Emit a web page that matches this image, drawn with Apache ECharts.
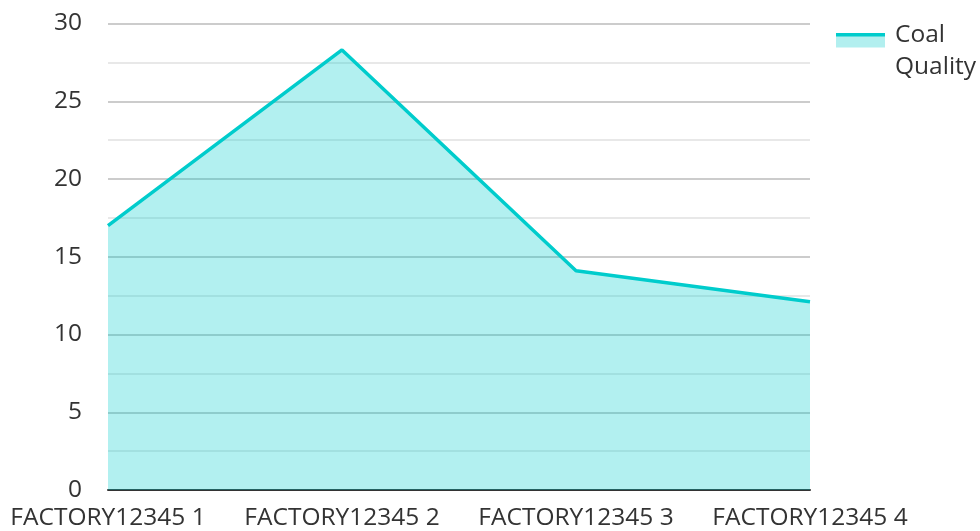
<!DOCTYPE html>
<html><head><meta charset="utf-8">
<script src="https://cdn.jsdelivr.net/npm/echarts@6/dist/echarts.min.js"></script>
<style>html,body{margin:0;padding:0;background:#fff}#c{width:980px;height:531px}</style>
</head><body><div id="c"></div>
<script>
var categories = ['FACTORY12345 1', 'FACTORY12345 2', 'FACTORY12345 3', 'FACTORY12345 4'];
var coalQuality = [17.0, 28.3, 14.1, 12.1];
var seriesName = 'Coal Quality';

var iconSvg = '<svg xmlns="http://www.w3.org/2000/svg" width="54" height="37"><rect x="0" y="0" width="49" height="15" fill="#b2efef"/><rect x="0" y="0" width="49" height="4" fill="#00cccc"/></svg>';
var chart = echarts.init(document.getElementById('c'));
chart.setOption({
  animation: false,
  textStyle: { fontFamily: 'Open Sans' },
  grid: { left: 108, right: 170, top: 23.5, bottom: 41, containLabel: false },
  legend: {
    left: 831, top: 14, orient: 'vertical',
    itemWidth: 54, itemHeight: 37, itemGap: 10,
    icon: 'image://data:image/svg+xml;charset=utf-8,' + encodeURIComponent(iconSvg),
    formatter: function (n) { return n.replace(' ', '\n'); },
    textStyle: { fontSize: 24.5, color: '#333', lineHeight: 32, fontFamily: 'Open Sans' },
    data: [seriesName]
  },
  xAxis: {
    type: 'category', data: categories, boundaryGap: false,
    axisLine: { lineStyle: { color: '#333', width: 2 } },
    axisTick: { show: false },
    axisLabel: { color: '#333', fontSize: 24.5, margin: 16, interval: 0, fontFamily: 'Open Sans' },
    splitLine: { show: false }
  },
  yAxis: {
    type: 'value', min: 0, max: 30, interval: 5,
    axisLine: { show: false }, axisTick: { show: false },
    axisLabel: { color: '#333', fontSize: 24.5, margin: 26, fontFamily: 'Open Sans' },
    splitLine: { lineStyle: { color: '#cccccc', width: 2 } },
    minorTick: { show: false, splitNumber: 2 },
    minorSplitLine: { show: true, lineStyle: { color: '#e8e8e8', width: 2 } }
  },
  series: [{
    name: seriesName, type: 'line', data: coalQuality,
    symbol: 'none',
    lineStyle: { color: '#00cccc', width: 3.5 },
    itemStyle: { color: '#00cccc' },
    areaStyle: { color: '#00cccc', opacity: 0.3 }
  }]
});
</script></body></html>
